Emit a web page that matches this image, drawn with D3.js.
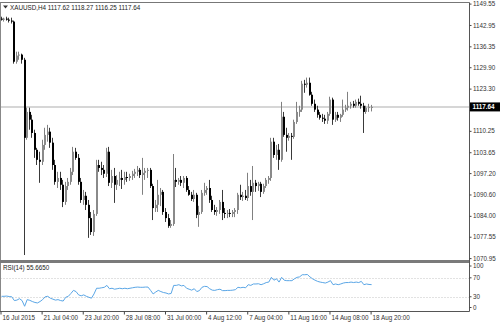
<!DOCTYPE html>
<html>
<head>
<meta charset="utf-8">
<script src="https://cdn.jsdelivr.net/npm/d3@7/dist/d3.min.js"></script>
<style>
  body { margin: 0; background: #fff; }
  svg text { font-family: "Liberation Sans", Arial, sans-serif; font-size: 6.3px; fill: #222; }
</style>
</head>
<body>
<script>
// XAUUSD H4 bars, [open, high, low, close]
var ohlc = [
  [1144.9,1145.5,1144.3,1144.6],[1144.6,1145.2,1144.0,1144.9],[1144.9,1145.5,1144.3,1144.6],[1144.6,1145.2,1143.7,1144.3],
  [1144.3,1145.2,1143.4,1144.0],[1144.0,1144.3,1131.0,1131.6],[1131.6,1134.7,1131.0,1133.5],[1133.5,1134.7,1132.2,1133.8],
  [1133.8,1134.1,1131.0,1132.2],[1132.2,1132.8,1071.9,1108.1],[1108.1,1117.4,1107.5,1116.1],[1116.1,1117.4,1110.6,1113.7],
  [1113.7,1115.2,1108.1,1109.6],[1109.6,1110.6,1101.9,1104.4],[1104.4,1105.0,1099.7,1101.3],[1101.3,1103.8,1094.2,1100.7],
  [1100.7,1107.5,1099.7,1105.9],[1105.9,1111.2,1104.4,1109.0],[1109.0,1112.1,1106.9,1110.0],[1110.0,1111.2,1105.0,1106.6],
  [1106.6,1108.1,1098.2,1099.7],[1099.7,1101.3,1093.6,1094.5],[1094.5,1097.6,1092.6,1095.7],[1095.7,1097.6,1092.0,1093.6],
  [1093.6,1095.1,1086.7,1088.3],[1088.3,1094.5,1087.4,1093.2],[1093.2,1095.7,1092.0,1094.5],[1094.5,1098.8,1093.6,1097.6],
  [1097.6,1105.3,1096.6,1103.8],[1103.8,1105.0,1101.3,1101.9],[1101.9,1103.1,1093.6,1094.5],[1094.5,1095.7,1088.0,1088.9],
  [1088.9,1092.0,1087.4,1090.2],[1090.2,1091.4,1085.8,1087.4],[1087.4,1088.9,1077.2,1083.3],[1083.3,1085.2,1078.1,1079.0],
  [1079.0,1085.8,1077.8,1084.6],[1084.6,1101.3,1084.0,1099.7],[1099.7,1101.3,1097.6,1098.8],[1098.8,1100.7,1096.6,1098.2],
  [1098.2,1099.7,1095.7,1097.0],[1097.0,1105.0,1096.0,1103.8],[1103.8,1105.3,1093.2,1094.2],[1094.2,1098.2,1092.6,1096.3],
  [1096.3,1098.8,1088.0,1093.6],[1093.6,1096.6,1092.0,1095.1],[1095.1,1097.6,1093.2,1095.7],[1095.7,1098.2,1092.3,1095.1],
  [1095.1,1097.6,1093.6,1096.0],[1096.0,1097.6,1094.5,1095.7],[1095.7,1097.0,1094.8,1096.3],[1096.3,1097.9,1095.1,1097.0],
  [1097.0,1098.5,1095.7,1097.6],[1097.6,1099.4,1096.3,1098.2],[1098.2,1098.8,1095.7,1096.6],[1096.6,1101.9,1090.5,1097.3],
  [1097.3,1098.8,1095.1,1097.9],[1097.9,1098.8,1095.7,1098.2],[1098.2,1098.8,1092.6,1093.2],[1093.2,1093.9,1082.7,1086.4],
  [1086.4,1088.9,1085.2,1087.4],[1087.4,1095.1,1085.2,1090.5],[1090.5,1092.6,1087.0,1091.4],[1091.4,1092.0,1084.3,1085.2],
  [1085.2,1086.4,1082.1,1083.3],[1083.3,1084.6,1080.3,1080.9],[1080.9,1082.7,1080.3,1081.5],[1081.5,1103.1,1080.9,1095.1],
  [1095.1,1098.8,1092.9,1094.5],[1094.5,1095.7,1093.6,1095.1],[1095.1,1096.3,1093.2,1094.2],[1094.2,1096.3,1092.6,1095.7],
  [1095.7,1096.3,1091.4,1092.0],[1092.0,1093.2,1090.2,1090.5],[1090.5,1091.4,1088.6,1089.2],[1089.2,1092.0,1088.3,1090.5],
  [1090.5,1091.1,1083.3,1084.3],[1084.3,1087.1,1080.6,1085.2],[1085.2,1092.0,1084.6,1091.1],[1091.1,1094.2,1090.2,1092.0],
  [1092.0,1093.2,1090.5,1092.6],[1092.6,1095.1,1088.0,1088.9],[1088.9,1090.2,1085.2,1085.8],[1085.8,1087.4,1084.3,1085.2],
  [1085.2,1086.7,1084.0,1085.8],[1085.8,1088.9,1084.6,1088.3],[1088.3,1092.0,1082.7,1084.9],[1084.9,1086.4,1083.3,1084.6],
  [1084.6,1085.8,1083.3,1084.9],[1084.9,1086.1,1083.6,1084.6],[1084.6,1085.8,1083.6,1085.2],[1085.2,1086.4,1083.6,1085.8],
  [1085.8,1091.1,1084.6,1090.5],[1090.5,1093.6,1088.9,1089.8],[1089.8,1091.4,1088.6,1090.2],[1090.2,1092.0,1088.9,1089.5],
  [1089.5,1097.3,1088.6,1093.2],[1093.2,1095.1,1090.2,1091.4],[1091.4,1099.4,1082.7,1094.2],[1094.2,1095.1,1091.4,1093.2],
  [1093.2,1094.5,1091.7,1093.9],[1093.9,1094.5,1089.8,1091.4],[1091.4,1093.9,1090.8,1093.2],[1093.2,1095.7,1092.6,1095.1],
  [1095.1,1096.3,1093.9,1095.7],[1095.7,1108.1,1094.8,1106.9],[1106.9,1108.1,1101.9,1102.8],[1102.8,1105.9,1101.3,1104.4],
  [1104.4,1106.2,1098.2,1101.3],[1101.3,1119.2,1100.7,1114.6],[1114.6,1116.1,1108.4,1109.0],[1109.0,1111.2,1103.8,1108.1],
  [1108.1,1109.6,1107.2,1108.7],[1108.7,1109.6,1101.3,1108.4],[1108.4,1113.7,1107.8,1113.0],[1113.0,1119.2,1112.4,1116.1],
  [1116.1,1118.0,1114.6,1116.8],[1116.8,1125.7,1116.1,1124.8],[1124.8,1126.0,1122.0,1124.5],[1124.5,1126.7,1123.6,1125.1],
  [1125.1,1126.7,1121.1,1121.4],[1121.4,1122.3,1118.0,1118.6],[1118.6,1119.9,1116.1,1116.8],[1116.8,1118.0,1114.3,1115.2],
  [1115.2,1116.1,1113.7,1114.3],[1114.3,1115.5,1113.0,1114.0],[1114.0,1115.2,1112.4,1113.4],[1113.4,1116.1,1112.4,1115.5],
  [1115.5,1120.8,1114.9,1119.9],[1119.9,1120.5,1112.1,1113.7],[1113.7,1116.1,1113.0,1115.2],[1115.2,1116.1,1113.4,1114.3],
  [1114.3,1115.5,1113.0,1115.2],[1115.2,1119.9,1114.6,1116.8],[1116.8,1118.3,1116.1,1117.4],[1117.4,1122.3,1116.5,1118.0],
  [1118.0,1119.2,1117.1,1118.6],[1118.6,1119.5,1117.4,1118.0],[1118.0,1119.9,1117.4,1119.2],[1119.2,1120.2,1118.0,1118.6],
  [1118.6,1121.1,1117.1,1118.0],[1118.0,1118.9,1109.6,1116.1],[1116.1,1118.0,1115.5,1117.4],[1117.4,1118.6,1116.1,1117.6],
  [1117.62,1118.27,1116.25,1117.64]
];

// RSI(14) per bar
var rsi = [
  31,31,31.5,30.5,30,22,23,26,22,10,24,22.5,20,18,17,20,24,30,31,27,
  25,23,24,22,21,29,31,37,43.5,41,34,32,34,31,29,27,36,48,48,49,
  50,54,47,48,46,47,48,47,48,47,48,49,50,50.5,50,50,50.5,50.5,43.5,36,
  40,43.5,41,39,38,36,37,54,54,55.5,53,54,48,46,44,47,41,43,50,52,
  51.5,47,44,43.5,45,46,43,43,43.5,43.5,44,45,50,49,50,49,55.5,54,57,57,
  57.5,55.5,57.5,60,61,71,65,68,61,71,65,64,64,64,68,71,72,76.5,76.5,77,
  72,68,65,62.5,61,60,59,61,64,55.5,57,55.5,57,59,60,60,61,60,61,60,
  62.5,55.5,57,56,55.665
];

// 1116.70 sits under the current-price marker, so it gets a tick but no label
var priceTicks = [1149.55,1142.95,1136.35,1129.90,1123.30,1116.70,1110.25,1103.65,1097.20,1090.60,1084.00,1077.55,1070.95];
var hiddenPriceTicks = [1116.70];
var rsiLevels = [70, 30];
var rsiTicks = [100, 70, 30, 0];
var timeLabels = ["16 Jul 2015","21 Jul 04:00","23 Jul 20:00","28 Jul 08:00","31 Jul 00:00",
                  "4 Aug 12:00","7 Aug 04:00","11 Aug 16:00","14 Aug 08:00","18 Aug 20:00"];
var timeLabelBars = [0,16,32,48,64,80,96,112,128,144];

var W = 500, H = 324,
    axisX = 469.5,
    mainTop = 2.5, mainBot = 260.5,
    rsiTop = 262.5, rsiBot = 311.5;

var svg = d3.select("body").append("svg")
    .attr("width", W).attr("height", H);

var x = d3.scaleLinear().domain([0, ohlc.length - 1]).range([0.5, 370.6]);
var y = d3.scaleLinear().domain([1070.95, 1149.55]).range([258.1, 3.6]);
var ry = d3.scaleLinear().domain([0, 100]).range([311, 263.6]);

// current price line
var last = ohlc[ohlc.length - 1];
svg.append("line")
    .attr("x1", 0.5).attr("x2", axisX)
    .attr("y1", y(last[3])).attr("y2", y(last[3]))
    .style("stroke", "#d6d6d6").style("stroke-width", 2);

// candles
var candle = svg.append("g").selectAll("g").data(ohlc).enter().append("g");
candle.append("line")
    .attr("x1", function(d, i){ return Math.round(x(i)) + 0.5; })
    .attr("x2", function(d, i){ return Math.round(x(i)) + 0.5; })
    .attr("y1", function(d){ return y(d[1]); })
    .attr("y2", function(d){ return y(d[2]); })
    .style("stroke", function(d){ return d[3] >= d[0] ? "#808080" : "#3a3a3a"; })
    .style("stroke-width", 1);
candle.append("rect")
    .attr("x", function(d, i){ return Math.round(x(i)); })
    .attr("width", 2)
    .attr("y", function(d){ return y(Math.max(d[0], d[3])); })
    .attr("height", function(d){ return Math.max(1, Math.abs(y(d[0]) - y(d[3]))); })
    .style("fill", function(d){ return d[3] >= d[0] ? "#8a8a8a" : "#000"; });

// rsi levels and line
svg.append("g").selectAll("line").data(rsiLevels).enter().append("line")
    .attr("x1", 0.5).attr("x2", axisX)
    .attr("y1", function(d){ return Math.round(ry(d)) + 0.5; })
    .attr("y2", function(d){ return Math.round(ry(d)) + 0.5; })
    .style("stroke", "#c4c4c4").style("stroke-dasharray", "1,2");

svg.append("path")
    .datum(rsi)
    .attr("d", d3.line().x(function(d, i){ return x(i) + 1; }).y(function(d){ return ry(d); }))
    .style("fill", "none").style("stroke", "#5aa6e6").style("stroke-width", 1);

// frames
svg.append("line").attr("x1", 0).attr("x2", axisX).attr("y1", mainTop).attr("y2", mainTop)
    .style("stroke", "#777");
svg.append("line").attr("x1", 0.5).attr("x2", 0.5).attr("y1", mainTop).attr("y2", rsiBot)
    .style("stroke", "#888");
svg.append("rect").attr("x", 0).attr("y", mainBot - 0.5).attr("width", axisX + 0.5).attr("height", rsiTop - mainBot + 1)
    .style("fill", "#7a7a7a");
svg.append("line").attr("x1", 0).attr("x2", axisX).attr("y1", rsiBot).attr("y2", rsiBot)
    .style("stroke", "#555");
svg.append("line").attr("x1", axisX).attr("x2", axisX).attr("y1", mainTop).attr("y2", rsiBot)
    .style("stroke", "#555");

// price axis
var yAxis = svg.append("g")
    .attr("transform", "translate(" + axisX + ",0)")
    .call(d3.axisRight(y).tickValues(priceTicks).tickSize(2).tickPadding(1.5)
        .tickFormat(function(d){ return hiddenPriceTicks.indexOf(d) >= 0 ? "" : d3.format(".2f")(d); }));
yAxis.select(".domain").remove();
yAxis.selectAll("line").style("stroke", "#444");
yAxis.selectAll("text").style("fill", "#333").style("font-size", "6.3px").style("font-family", "Liberation Sans, Arial, sans-serif");

// current price marker
svg.append("rect")
    .attr("x", axisX + 0.5).attr("y", y(last[3]) - 4.5)
    .attr("width", 30).attr("height", 9).style("fill", "#000");
svg.append("text")
    .attr("x", axisX + 3).attr("y", y(last[3]))
    .attr("dy", "0.35em")
    .style("fill", "#fff").style("font-weight", "bold")
    .text(d3.format(".2f")(last[3]));

// rsi axis labels, kept inside the panel
var rTick = svg.append("g").selectAll("g").data(rsiTicks).enter().append("g")
    .attr("transform", function(d){ return "translate(" + axisX + "," + Math.min(Math.max(ry(d), 266), 307.5) + ")"; });
rTick.append("line").attr("x2", 2).style("stroke", "#444");
rTick.append("text").attr("x", 3.5).attr("dy", "0.35em").style("fill", "#333").text(function(d){ return d; });

// time axis
var xAxis = svg.append("g")
    .attr("transform", "translate(0," + rsiBot + ")")
    .call(d3.axisBottom(x).tickValues(timeLabelBars).tickSize(3).tickPadding(1)
        .tickFormat(function(d, i){ return timeLabels[i]; }));
xAxis.select(".domain").remove();
xAxis.selectAll("line").style("stroke", "#444");
xAxis.selectAll("text")
    .attr("text-anchor", "start").attr("x", 1.5)
    .style("fill", "#333").style("font-size", "6.3px").style("font-family", "Liberation Sans, Arial, sans-serif");

// titles
svg.append("path").attr("d", "M3,5.5 L8,5.5 L5.5,8.5 Z").style("fill", "#333");
svg.append("text").attr("x", 10).attr("y", 9.5)
    .text("XAUUSD,H4  " + last.map(function(v){ return v.toFixed(2); }).join(" "));
svg.append("text").attr("x", 3).attr("y", 270)
    .text("RSI(14) " + rsi[rsi.length - 1].toFixed(4));
</script>
</body>
</html>
